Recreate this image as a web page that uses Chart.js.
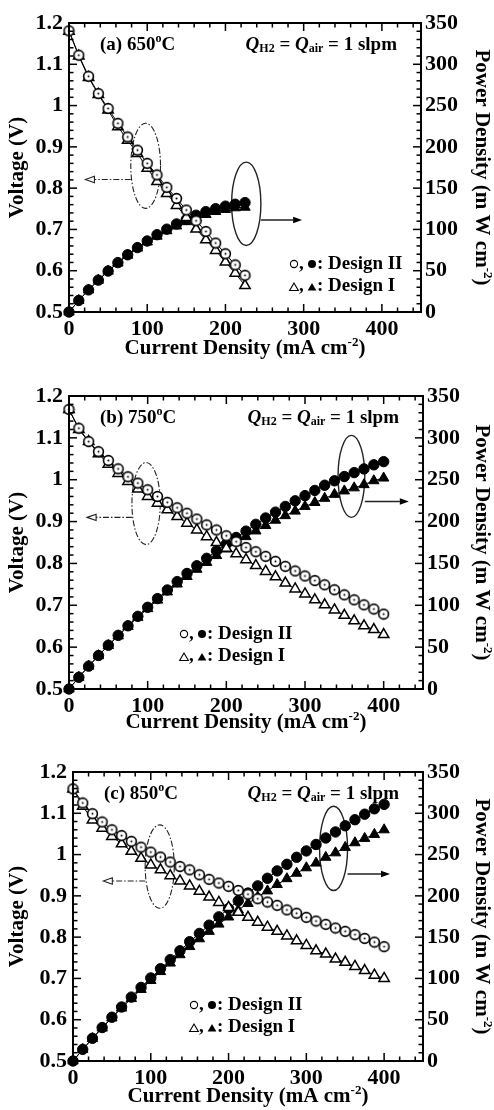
<!DOCTYPE html>
<html>
<head>
<meta charset="utf-8">
<title>SOFC voltage and power density</title>
<script src="https://cdn.jsdelivr.net/npm/chart.js@4.4.1/dist/chart.umd.min.js"></script>
<style>
    body { margin: 0; background: #fff; }
    canvas.panel { position: absolute; left: 0; display: block; }
</style>
</head>
<body>
<canvas id="chartA" class="panel" width="494" height="370" style="top:0"></canvas>
<canvas id="chartB" class="panel" width="494" height="370" style="top:370px"></canvas>
<canvas id="chartC" class="panel" width="494" height="370" style="top:740px"></canvas>
<script>
// Current density (mA cm-2)
const currentA = [0, 12.5, 25, 37.5, 50, 62.5, 75, 87.5, 100, 112.5, 125, 137.5, 150, 162.5, 175, 187.5, 200, 212.5, 225];
const currentBC = [0, 12.5, 25, 37.5, 50, 62.5, 75, 87.5, 100, 112.5, 125, 137.5, 150, 162.5, 175, 187.5, 200,
    212.5, 225, 237.5, 250, 262.5, 275, 287.5, 300, 312.5, 325, 337.5, 350, 362.5, 375, 387.5, 400];

// (a) 650 C
const voltA_II = [1.181, 1.122, 1.071, 1.029, 0.993, 0.957, 0.924, 0.892, 0.860, 0.832, 0.802, 0.775, 0.747, 0.721, 0.695, 0.667, 0.641, 0.614, 0.589];
const voltA_I = [1.180, 1.120, 1.068, 1.027, 0.989, 0.949, 0.916, 0.884, 0.848, 0.816, 0.787, 0.758, 0.729, 0.701, 0.675, 0.649, 0.621, 0.594, 0.564];
const powerA_II = [0, 14.0, 26.8, 38.6, 49.6, 59.8, 69.3, 78.0, 86.0, 93.6, 100.3, 106.6, 112.1, 117.2, 121.6, 125.1, 128.2, 130.5, 132.5];
const powerA_I = [0, 14.0, 26.7, 38.5, 49.5, 59.3, 68.7, 77.4, 84.8, 91.8, 98.4, 104.2, 109.4, 113.9, 118.1, 121.7, 124.2, 126.2, 126.9];

// (b) 750 C
const voltB_II = [1.168, 1.123, 1.091, 1.067, 1.046, 1.026, 1.007, 0.992, 0.976, 0.960, 0.946, 0.933, 0.920, 0.906, 0.892, 0.880, 0.866,
    0.852, 0.838, 0.828, 0.817, 0.805, 0.793, 0.782, 0.770, 0.759, 0.749, 0.737, 0.725, 0.713, 0.701, 0.691, 0.679];
const voltB_I = [1.168, 1.120, 1.091, 1.062, 1.037, 1.015, 0.996, 0.978, 0.960, 0.944, 0.928, 0.912, 0.896, 0.880, 0.864, 0.850, 0.836,
    0.823, 0.809, 0.795, 0.781, 0.768, 0.753, 0.739, 0.727, 0.713, 0.701, 0.689, 0.676, 0.663, 0.651, 0.642, 0.630];
const powerB_II = [0, 14.0, 27.3, 40.0, 52.3, 64.1, 75.5, 86.8, 97.6, 108.0, 118.3, 128.3, 138.0, 147.2, 156.1, 165.0, 173.2,
    181.0, 188.6, 196.7, 204.3, 211.3, 218.1, 224.8, 231.0, 237.2, 243.4, 248.7, 253.8, 258.5, 262.9, 267.8, 271.6];
const powerB_I = [0, 14.0, 27.3, 39.8, 51.9, 63.4, 74.7, 85.6, 96.0, 106.2, 116.0, 125.4, 134.4, 143.0, 151.2, 159.4, 167.2,
    174.9, 182.0, 188.8, 195.3, 201.6, 207.1, 212.5, 218.1, 222.8, 227.8, 232.5, 236.6, 240.3, 244.1, 248.8, 252.0];

// (c) 850 C
const voltC_II = [1.159, 1.125, 1.099, 1.079, 1.060, 1.046, 1.032, 1.018, 1.006, 0.994, 0.982, 0.971, 0.963, 0.951, 0.940, 0.931, 0.923,
    0.913, 0.904, 0.893, 0.885, 0.877, 0.866, 0.858, 0.848, 0.839, 0.831, 0.822, 0.814, 0.806, 0.797, 0.788, 0.777];
const voltC_I = [1.159, 1.117, 1.084, 1.064, 1.044, 1.026, 1.008, 0.991, 0.975, 0.963, 0.949, 0.936, 0.924, 0.911, 0.897, 0.884, 0.872,
    0.860, 0.848, 0.836, 0.824, 0.814, 0.803, 0.791, 0.780, 0.767, 0.759, 0.747, 0.739, 0.729, 0.719, 0.708, 0.700];
const powerC_II = [0, 14.1, 27.5, 40.5, 53.0, 65.4, 77.4, 89.1, 100.6, 111.8, 122.8, 133.5, 144.5, 154.5, 164.5, 174.6, 184.6,
    194.0, 203.4, 212.1, 221.3, 230.2, 238.2, 246.7, 254.4, 262.2, 270.1, 277.4, 284.9, 292.2, 298.9, 305.4, 310.8];
const powerC_I = [0, 14.0, 27.1, 39.9, 52.2, 64.1, 75.6, 86.7, 97.5, 108.3, 118.6, 128.7, 138.6, 148.0, 157.0, 165.8, 174.4,
    182.8, 190.8, 198.6, 206.0, 213.7, 220.8, 227.4, 234.0, 239.7, 246.7, 252.1, 258.7, 264.3, 269.6, 274.4, 280.0];

// axis tick labels
const currentTicks = [0, 100, 200, 300, 400];
const voltageTicks = [0.5, 0.6, 0.7, 0.8, 0.9, 1, 1.1, 1.2];
const powerTicks = [0, 50, 100, 150, 200, 250, 300, 350];

const SERIF = '"Liberation Serif", "Times New Roman", serif';
const W = 494, H = 370;

function font(size, style) {
    return `${style || ''} bold ${size}px ${SERIF}`;
}

// panel layout + annotations (annotation coords are in mA / V)
const panels = [
    {
        canvas: 'chartA', temp: '(a) 650',
        current: currentA, vII: voltA_II, vI: voltA_I, pII: powerA_II, pI: powerA_I,
        box: { left: 69, right: 421, top: 23, bottom: 312 }, xTitleY: 349,
        legend: { x: 290, y: 264 },
        vEllipse: { cx: 98, cy: 0.854, rx: 19, ry: 0.103 }, vArrow: { from: 79, to: 21, y: 0.821 },
        pEllipse: { cx: 226.6, cy: 0.762, rx: 18.7, ry: 0.101 }, pArrow: { from: 245.3, to: 298, y: 0.723 }
    },
    {
        canvas: 'chartB', temp: '(b) 750',
        current: currentBC, vII: voltB_II, vI: voltB_I, pII: powerB_II, pI: powerB_I,
        box: { left: 69, right: 423, top: 26, bottom: 319 }, xTitleY: 353,
        legend: { x: 180, y: 264 },
        vEllipse: { cx: 98, cy: 0.943, rx: 18, ry: 0.098 }, vArrow: { from: 80, to: 23, y: 0.910 },
        pEllipse: { cx: 359, cy: 1.008, rx: 17, ry: 0.098 }, pArrow: { from: 376, to: 432, y: 0.948 }
    },
    {
        canvas: 'chartC', temp: '(c) 850',
        current: currentBC, vII: voltC_II, vI: voltC_I, pII: powerC_II, pI: powerC_I,
        box: { left: 73, right: 423, top: 32, bottom: 321 }, xTitleY: 357,
        legend: { x: 190, y: 265 },
        vEllipse: { cx: 111.5, cy: 0.971, rx: 18.7, ry: 0.101 }, vArrow: { from: 92.8, to: 39, y: 0.936 },
        pEllipse: { cx: 335, cy: 1.015, rx: 18, ry: 0.102 }, pArrow: { from: 353, to: 407.6, y: 0.953 }
    }
];

// draws a run of text pieces (for super/subscripts) on one baseline
function drawRich(ctx, parts, x, y, align) {
    let total = 0;
    parts.forEach(p => {
        ctx.font = p.font;
        p.w = ctx.measureText(p.text).width;
        total += p.w;
    });
    let cx = x;
    if (align === 'center') cx = x - total / 2;
    if (align === 'right') cx = x - total;
    ctx.textAlign = 'left';
    ctx.textBaseline = 'middle';
    parts.forEach(p => {
        ctx.font = p.font;
        ctx.fillText(p.text, cx, y + (p.dy || 0));
        cx += p.w;
    });
}

function makeOpenCircle() {
    const c = document.createElement('canvas');
    c.width = 13;
    c.height = 13;
    const g = c.getContext('2d');
    g.beginPath();
    g.arc(6.5, 6.5, 4.9, 0, Math.PI * 2);
    g.fillStyle = '#fff';
    g.fill();
    g.lineWidth = 1.6;
    g.strokeStyle = '#000';
    g.stroke();
    g.beginPath();
    g.arc(6.5, 6.5, 1, 0, Math.PI * 2);
    g.fillStyle = '#000';
    g.fill();
    return c;
}
const openCircle = makeOpenCircle();

function triangle(ctx, cx, cy, r) {
    ctx.beginPath();
    ctx.moveTo(cx, cy - r);
    ctx.lineTo(cx - r * 0.87, cy + r / 2);
    ctx.lineTo(cx + r * 0.87, cy + r / 2);
    ctx.closePath();
}

function drawEllipse(ctx, xs, ys, e) {
    const cx = xs.getPixelForValue(e.cx);
    const cy = ys.getPixelForValue(e.cy);
    const rx = Math.abs(xs.getPixelForValue(e.cx + e.rx) - cx);
    const ry = Math.abs(ys.getPixelForValue(e.cy + e.ry) - cy);
    ctx.beginPath();
    ctx.ellipse(cx, cy, rx, ry, 0, 0, Math.PI * 2);
    ctx.stroke();
}

function drawArrow(ctx, xs, ys, ar, open) {
    const x0 = xs.getPixelForValue(ar.from);
    const x1 = xs.getPixelForValue(ar.to);
    const py = ys.getPixelForValue(ar.y);
    const dir = Math.sign(x1 - x0);
    const head = 9;
    ctx.beginPath();
    ctx.moveTo(x0, py);
    ctx.lineTo(x1 - dir * head, py);
    ctx.stroke();
    ctx.setLineDash([]);
    ctx.beginPath();
    ctx.moveTo(x1, py);
    ctx.lineTo(x1 - dir * head, py - 3.2);
    ctx.lineTo(x1 - dir * head, py + 3.2);
    ctx.closePath();
    if (open) {
        ctx.fillStyle = '#fff';
        ctx.fill();
        ctx.stroke();
    } else {
        ctx.fillStyle = '#000';
        ctx.fill();
    }
}

// frame and inward ticks, drawn as filled bars
function drawFrame(chart) {
    const ctx = chart.ctx;
    const a = chart.chartArea;
    const xs = chart.scales.x, ys = chart.scales.y, y2 = chart.scales.y2;
    const L = a.left, R = a.right, T = a.top, B = a.bottom;
    ctx.save();
    ctx.fillStyle = '#000';
    const tw = 1.5;
    // minor every 20 mA / 0.02 V / 10 mW
    for (let v = 0; v <= 440; v += 20) {
        const px = xs.getPixelForValue(v);
        const len = v % 100 === 0 ? 8 : 4.5;
        ctx.fillRect(px - tw / 2, B - len, tw, len);
        ctx.fillRect(px - tw / 2, T, tw, len);
    }
    for (let i = 0; i <= 35; i++) {
        const py = ys.getPixelForValue(0.5 + i * 0.02);
        const len = i % 5 === 0 ? 8 : 4.5;
        ctx.fillRect(L, py - tw / 2, len, tw);
    }
    for (let v = 0; v <= 350; v += 10) {
        const py = y2.getPixelForValue(v);
        const len = v % 50 === 0 ? 8 : 4.5;
        ctx.fillRect(R - len, py - tw / 2, len, tw);
    }
    const fw = 2;
    ctx.fillRect(L - fw / 2, T - fw / 2, R - L + fw, fw);
    ctx.fillRect(L - fw / 2, T - fw / 2, fw, B - T + fw);
    ctx.fillRect(L - fw / 2, B - fw / 2, R - L + fw, fw);
    ctx.fillRect(R - fw / 2, T - fw / 2, fw, B - T + fw);
    ctx.restore();
}

function decorPlugin(panel) {
    return {
        id: 'decor',
        beforeDatasetsDraw(chart) {
            const { ctx, scales } = chart;
            const xs = scales.x, ys = scales.y;
            ctx.save();
            ctx.strokeStyle = '#222';
            ctx.lineWidth = 1.1;
            ctx.setLineDash([6, 2, 1.5, 2]);
            drawEllipse(ctx, xs, ys, panel.vEllipse);
            drawArrow(ctx, xs, ys, panel.vArrow, true);
            ctx.setLineDash([]);
            ctx.lineWidth = 1.4;
            drawEllipse(ctx, xs, ys, panel.pEllipse);
            drawArrow(ctx, xs, ys, panel.pArrow, false);
            ctx.restore();
        },
        afterDraw(chart) {
            drawFrame(chart);
            const { ctx, chartArea: a } = chart;
            ctx.save();
            ctx.fillStyle = '#000';

            drawRich(ctx, [
                { text: panel.temp, font: font(19) },
                { text: 'o', font: font(12), dy: -6 },
                { text: 'C', font: font(19) }
            ], a.left + 31, a.top + 22, 'left');

            drawRich(ctx, [
                { text: 'Q', font: font(19, 'italic') },
                { text: 'H2', font: font(12), dy: 4 },
                { text: ' = ', font: font(19) },
                { text: 'Q', font: font(19, 'italic') },
                { text: 'air', font: font(12), dy: 4 },
                { text: ' = 1 slpm', font: font(19) }
            ], a.right - 24, a.top + 22, 'right');

            // legend
            const lg = panel.legend;
            ctx.strokeStyle = '#000';
            ctx.lineWidth = 1.1;
            ctx.beginPath();
            ctx.arc(lg.x + 4, lg.y, 3.6, 0, Math.PI * 2);
            ctx.stroke();
            ctx.beginPath();
            ctx.arc(lg.x + 22, lg.y, 4, 0, Math.PI * 2);
            ctx.fill();
            triangle(ctx, lg.x + 4, lg.y + 24, 5);
            ctx.stroke();
            triangle(ctx, lg.x + 22, lg.y + 24, 5);
            ctx.fill();
            drawRich(ctx, [{ text: ',', font: font(19) }], lg.x + 9, lg.y, 'left');
            drawRich(ctx, [{ text: ',', font: font(19) }], lg.x + 9, lg.y + 22, 'left');
            drawRich(ctx, [{ text: ': Design II', font: font(19) }], lg.x + 27, lg.y, 'left');
            drawRich(ctx, [{ text: ': Design I', font: font(19) }], lg.x + 27, lg.y + 22, 'left');

            // axis titles
            drawRich(ctx, [
                { text: 'Current Density (mA cm', font: font(21) },
                { text: '-2', font: font(13), dy: -6 },
                { text: ')', font: font(21) }
            ], (a.left + a.right) / 2, panel.xTitleY, 'center');

            const midY = (a.top + a.bottom) / 2;
            ctx.save();
            ctx.translate(18, midY);
            ctx.rotate(-Math.PI / 2);
            drawRich(ctx, [{ text: 'Voltage (V)', font: font(21) }], 0, 0, 'center');
            ctx.restore();

            ctx.save();
            ctx.translate(481, midY);
            ctx.rotate(Math.PI / 2);
            drawRich(ctx, [
                { text: 'Power Density (m W cm', font: font(21) },
                { text: '-2', font: font(13), dy: -6 },
                { text: ')', font: font(21) }
            ], 0, 0, 'center');
            ctx.restore();

            ctx.restore();
        }
    };
}

function series(xs, ys) {
    return xs.map((x, i) => ({ x: x, y: ys[i] }));
}

function fixedTicks(values) {
    return scale => { scale.ticks = values.map(v => ({ value: v })); };
}

const tickFont = { family: SERIF, size: 22, weight: 'bold' };

panels.forEach(panel => {
    const box = panel.box;
    const base = {
        borderColor: '#000',
        borderWidth: 1,
        showLine: true,
        tension: 0,
        clip: false,
        pointBorderColor: '#000'
    };

    new Chart(document.getElementById(panel.canvas), {
        type: 'line',
        data: {
            datasets: [
                Object.assign({}, base, {
                    label: 'Voltage, Design II',
                    data: series(panel.current, panel.vII),
                    yAxisID: 'y',
                    pointStyle: openCircle,
                    pointRadius: 5
                }),
                Object.assign({}, base, {
                    label: 'Voltage, Design I',
                    data: series(panel.current, panel.vI),
                    yAxisID: 'y',
                    pointStyle: 'triangle',
                    pointRadius: 6,
                    pointBackgroundColor: '#fff',
                    pointBorderWidth: 1.5
                }),
                Object.assign({}, base, {
                    label: 'Power, Design II',
                    data: series(panel.current, panel.pII),
                    yAxisID: 'y2',
                    pointStyle: 'circle',
                    pointRadius: 5.2,
                    pointBackgroundColor: '#000',
                    pointBorderWidth: 1
                }),
                Object.assign({}, base, {
                    label: 'Power, Design I',
                    data: series(panel.current, panel.pI),
                    yAxisID: 'y2',
                    pointStyle: 'triangle',
                    pointRadius: 6,
                    pointBackgroundColor: '#000',
                    pointBorderWidth: 1
                })
            ]
        },
        options: {
            responsive: false,
            animation: false,
            devicePixelRatio: 1,
            layout: { padding: { top: box.top, left: 0, right: 0, bottom: 0 } },
            plugins: {
                legend: { display: false },
                tooltip: { enabled: false }
            },
            scales: {
                x: {
                    type: 'linear',
                    min: 0,
                    max: 450,
                    grid: { display: false, drawTicks: false },
                    border: { display: false },
                    afterBuildTicks: fixedTicks(currentTicks),
                    ticks: {
                        padding: 4,
                        autoSkip: false,
                        maxRotation: 0,
                        color: '#000',
                        font: tickFont,
                        callback: v => String(v)
                    },
                    afterFit: s => { s.height = H - box.bottom; }
                },
                y: {
                    position: 'left',
                    min: 0.5,
                    max: 1.2,
                    grid: { display: false, drawTicks: false },
                    border: { display: false },
                    afterBuildTicks: fixedTicks(voltageTicks),
                    ticks: {
                        padding: 6,
                        autoSkip: false,
                        color: '#000',
                        font: tickFont,
                        callback: v => String(v)
                    },
                    afterFit: s => { s.width = box.left; }
                },
                y2: {
                    position: 'right',
                    min: 0,
                    max: 350,
                    grid: { display: false, drawTicks: false },
                    border: { display: false },
                    afterBuildTicks: fixedTicks(powerTicks),
                    ticks: {
                        padding: 4,
                        autoSkip: false,
                        color: '#000',
                        font: tickFont,
                        callback: v => String(v)
                    },
                    afterFit: s => { s.width = W - box.right; }
                }
            }
        },
        plugins: [decorPlugin(panel)]
    });
});
</script>
</body>
</html>
